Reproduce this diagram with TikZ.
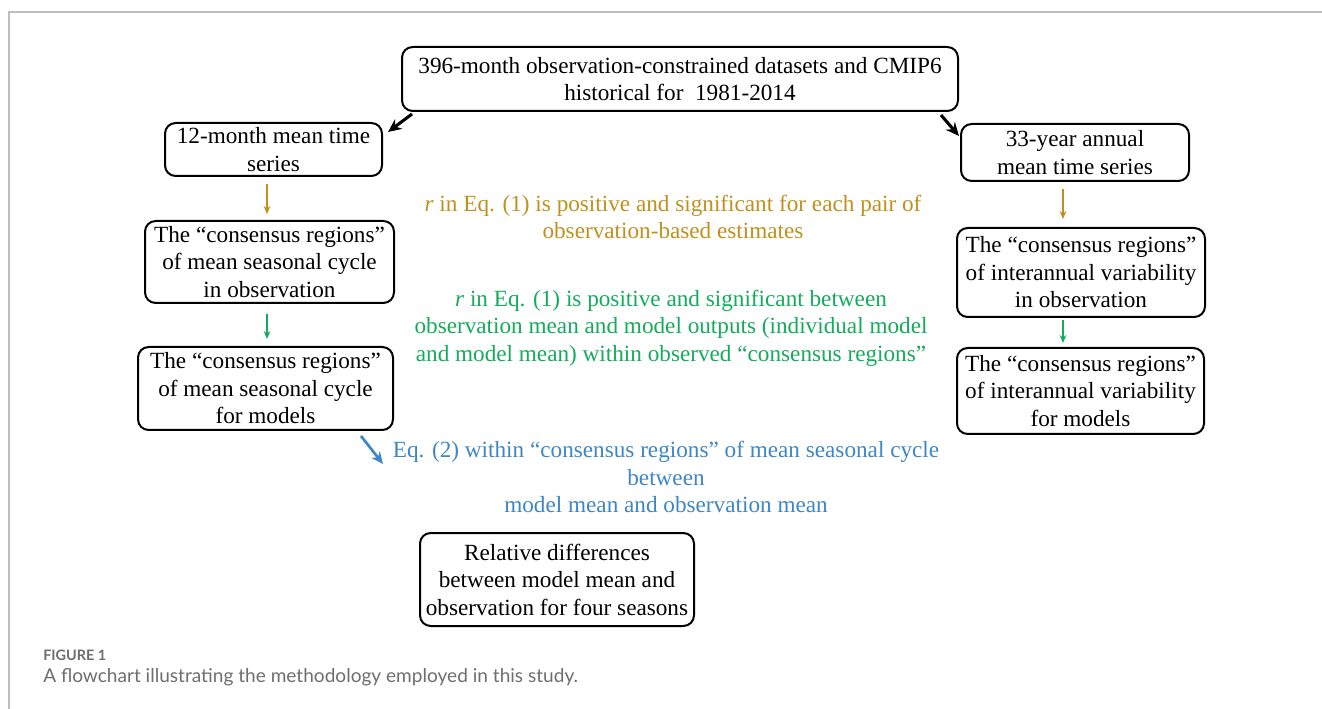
\documentclass[tikz,border=0pt]{standalone}
\usepackage{fontspec}
\setmainfont{Liberation Serif}
\newfontfamily\capfont{Lato}
\usetikzlibrary{calc,arrows.meta}
\definecolor{goldc}{RGB}{191,144,30}
\definecolor{greenc}{RGB}{20,172,90}
\definecolor{bluec}{RGB}{62,134,196}
\definecolor{framec}{RGB}{190,190,190}
\definecolor{capc}{RGB}{110,110,110}
\tikzset{
  box/.style={draw=black, line width=1.5pt, rounded corners=8pt, inner sep=0pt,
    align=center, font=\fontsize{17.4}{20.6}\selectfont},
  lbl/.style={inner sep=0pt, align=center, font=\fontsize{17.4}{20.6}\selectfont},
  blk/.style={-{Stealth[length=10pt,width=9pt]}, line width=2.3pt, black},
  gold/.style={-{Stealth[length=6pt,width=5pt]}, line width=1.3pt, goldc},
  grn/.style={-{Stealth[length=6pt,width=5pt]}, line width=1.3pt, greenc},
  blu/.style={-{Stealth[length=9pt,width=8pt]}, line width=2pt, bluec},
}
\begin{document}
\begin{tikzpicture}[x=0.75pt,y=-0.75pt]
\useasboundingbox (0,0) rectangle (1322,709);
% frame
\draw[framec, line width=1.2pt] (9,709) -- (9,12) -- (1322,12);
% boxes
\node[box, minimum width=556*0.75pt, minimum height=64*0.75pt] (top) at (680,79)
  {396-month observation-constrained datasets and CMIP6\\historical for\ \ 1981-2014};
\node[box, minimum width=217*0.75pt, minimum height=53*0.75pt] (m12) at (273.5,149.5)
  {12-month mean time\\series};
\node[box, minimum width=228*0.75pt, minimum height=57*0.75pt] (y33) at (1075,152.5)
  {33-year annual\\mean time series};
\node[box, minimum width=249*0.75pt, minimum height=82*0.75pt] (lobs) at (269.5,262)
  {The “consensus regions”\\of mean seasonal cycle\\in observation};
\node[box, minimum width=255*0.75pt, minimum height=83*0.75pt] (lmod) at (265.5,388.5)
  {The “consensus regions”\\of mean seasonal cycle\\for models};
\node[box, minimum width=248*0.75pt, minimum height=89*0.75pt] (robs) at (1081,272.5)
  {The “consensus regions”\\of interannual variability\\in observation};
\node[box, minimum width=247*0.75pt, minimum height=86*0.75pt] (rmod) at (1080.5,391)
  {The “consensus regions”\\of interannual variability\\for models};
\node[box, minimum width=274*0.75pt, minimum height=93*0.75pt] (bot) at (557,579.5)
  {Relative differences\\between model mean and\\observation for four seasons};
% labels
\node[lbl, text=goldc] (tgold) at (673,217)
  {\textit{r} in Eq. (1) is positive and significant for each pair of\\observation-based estimates};
\node[lbl, text=greenc] (tgreen) at (671,328)
  {\textit{r} in Eq. (1) is positive and significant between\\observation mean and model outputs (individual model\\and model mean) within observed “consensus regions”};
\node[lbl, text=bluec] (tblue) at (666,477)
  {Eq. (2) within “consensus regions” of mean seasonal cycle\\between\\model mean and observation mean};
% arrows
\draw[blk] ($(top.south west)+(11,2)$) -- ($(m12.north east)+(5,10)$);
\draw[blk] ($(top.south east)+(-18,3)$) -- ($(y33.north west)+(-1,13)$);
\draw[gold] ($(m12.south)+(-6.5,7)$) -- ($(lobs.north)+(-2.5,-6)$);
\draw[grn] ($(lobs.south)+(-2.5,10)$) -- ($(lmod.north)+(1.5,-7)$);
\draw[gold] ($(y33.south)+(-12,7)$) -- ($(robs.north)+(-18,-8)$);
\draw[grn] ($(robs.south)+(-18,2)$) -- ($(rmod.north)+(-17.5,-4)$);
\draw[blu] ($(lmod.south east)+(-33,5)$) -- ($(lmod.south east)+(-11,33)$);
% caption
\node[anchor=base west, inner sep=0pt, text=capc, font=\capfont\bfseries\fontsize{10.8}{12}\selectfont] (fig) at (43,660) {FIGURE 1};
\node[anchor=base west, inner sep=0pt, text=capc, font=\capfont\fontsize{14.3}{16}\selectfont] (cap) at (43,682) {A flowchart illustrating the methodology employed in this study.};
\end{tikzpicture}
\end{document}
